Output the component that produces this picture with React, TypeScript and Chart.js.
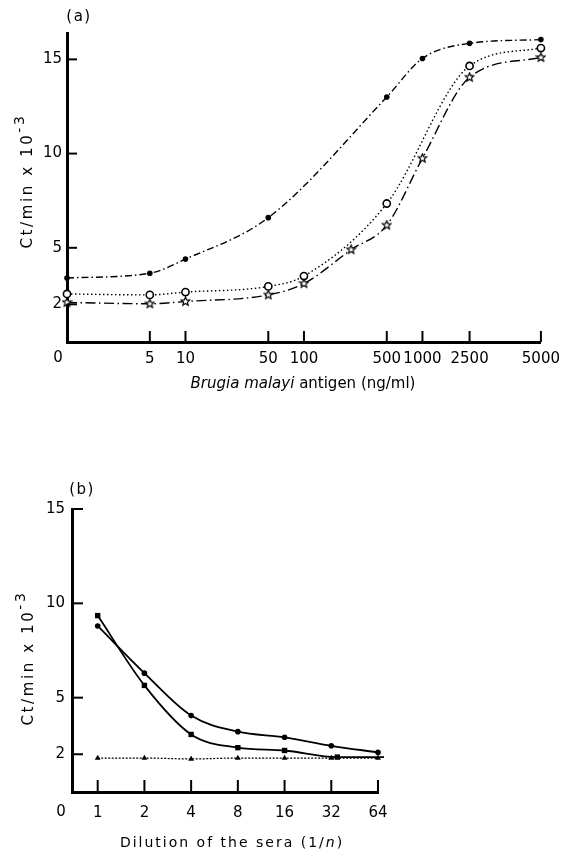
import React, { useEffect, useRef } from "react";
import { Chart, registerables } from "chart.js";

Chart.register(...registerables);

// ---- Panel (a): response to Brugia malayi antigen ----
const doseTicks = [0, 5, 10, 50, 100, 500, 1000, 2500, 5000];
const yTicksA = [2, 5, 10, 15];

const doseDots = [0, 5, 10, 50, 500, 1000, 2500, 5000];
const cpmDots = [3.4, 3.65, 4.4, 6.6, 13.0, 15.05, 15.85, 16.05];

const doseCircles = [0, 5, 10, 50, 100, 500, 2500, 5000];
const cpmCircles = [2.55, 2.5, 2.65, 2.95, 3.5, 7.35, 14.65, 15.6];

const doseStars = [0, 5, 10, 50, 100, 250, 500, 1000, 2500, 5000];
const cpmStars = [2.1, 2.03, 2.15, 2.5, 3.1, 4.9, 6.2, 9.75, 14.05, 15.1];

// ---- Panel (b): dilution of the sera ----
const dilutionTicks = [1, 2, 4, 8, 16, 32, 64];
const yTicksB = [2, 5, 10, 15];

const dilDots = [1, 2, 4, 8, 16, 32, 64];
const cpmDotsB = [8.8, 6.3, 4.05, 3.2, 2.9, 2.45, 2.1];

const dilSquares = [1, 2, 4, 8, 16, 35, 70];
const cpmSquares = [9.35, 5.65, 3.05, 2.35, 2.2, 1.85, 1.85];

const dilTriangles = [1, 2, 4, 8, 16, 32, 64];
const cpmTriangles = [1.8, 1.8, 1.75, 1.8, 1.8, 1.8, 1.8];

const FONT = "'DejaVu Sans', 'Liberation Sans', sans-serif";

// Dose axis: log10 of the dose with 0 at the origin; the step up to 5000 is drawn wider.
function doseAxis(v: number): number {
  if (v <= 0) return 0;
  const l = Math.log10(v);
  const knee = Math.log10(2500);
  return l <= knee ? l : knee + (l - knee) * 2;
}

function log2(v: number): number {
  return Math.log(v) / Math.LN2;
}

function makeStar(size: number): HTMLCanvasElement {
  const c = document.createElement("canvas");
  c.width = size;
  c.height = size;
  const ctx = c.getContext("2d")!;
  const cx = size / 2;
  const cy = size / 2;
  const R = size / 2 - 1;
  const r = R * 0.45;
  ctx.beginPath();
  for (let i = 0; i < 10; i++) {
    const a = -Math.PI / 2 + (i * Math.PI) / 5;
    const rad = i % 2 === 0 ? R : r;
    ctx.lineTo(cx + rad * Math.cos(a), cy + rad * Math.sin(a));
  }
  ctx.closePath();
  ctx.fillStyle = "#fff";
  ctx.fill();
  ctx.strokeStyle = "#000";
  ctx.lineWidth = 1.2;
  ctx.stroke();
  return c;
}

type Run = { text: string; font: string; rise?: number };

function drawRuns(
  ctx: CanvasRenderingContext2D,
  runs: Run[],
  cx: number,
  cy: number,
  spacing: number,
  rotate: boolean
) {
  ctx.save();
  (ctx as any).letterSpacing = `${spacing}px`;
  let total = 0;
  const widths = runs.map((r) => {
    ctx.font = r.font;
    const w = ctx.measureText(r.text).width;
    total += w;
    return w;
  });
  ctx.translate(cx, cy);
  if (rotate) ctx.rotate(-Math.PI / 2);
  ctx.fillStyle = "#000";
  ctx.textAlign = "left";
  ctx.textBaseline = "middle";
  let x = -total / 2;
  runs.forEach((r, i) => {
    ctx.font = r.font;
    ctx.fillText(r.text, x, -(r.rise || 0));
    x += widths[i];
  });
  ctx.restore();
}

type Decor = {
  letter: string;
  letterPos: [number, number];
  yTitleX: number;
  yTitleY: number;
  zeroX: number;
  zeroY: number;
  xTitle: Run[];
  xTitlePos: [number, number];
  xTitleSpacing: number;
  tickLen: number;
};

function decorPlugin(d: Decor) {
  return {
    id: "decor" + d.letter,
    afterDraw(chart: any) {
      const ctx: CanvasRenderingContext2D = chart.ctx;
      const xs = chart.scales.x;
      const ys = chart.scales.y;
      const axisY = ys.getPixelForValue(0);
      const axisX = xs.getPixelForValue(xs.min);
      ctx.save();
      ctx.strokeStyle = "#000";
      ctx.lineWidth = 2;
      // tick marks pointing into the plot
      xs.ticks.forEach((t: any) => {
        const px = xs.getPixelForValue(t.value);
        if (Math.abs(px - axisX) < 2) return;
        ctx.beginPath();
        ctx.moveTo(px, axisY);
        ctx.lineTo(px, axisY - d.tickLen);
        ctx.stroke();
      });
      ys.ticks.forEach((t: any) => {
        const py = ys.getPixelForValue(t.value);
        ctx.beginPath();
        ctx.moveTo(axisX, py);
        ctx.lineTo(axisX + d.tickLen - 1, py);
        ctx.stroke();
      });
      ctx.restore();

      ctx.save();
      ctx.fillStyle = "#000";
      ctx.textBaseline = "middle";
      ctx.textAlign = "center";
      ctx.font = `15px ${FONT}`;
      ctx.fillText("0", d.zeroX, d.zeroY);
      ctx.restore();

      drawRuns(ctx, [{ text: `(${d.letter})`, font: `15px ${FONT}` }], d.letterPos[0], d.letterPos[1], 1.5, false);

      drawRuns(
        ctx,
        [
          { text: "Ct/min x 10", font: `15px ${FONT}` },
          { text: "-3", font: `14px ${FONT}`, rise: 8 },
        ],
        d.yTitleX,
        d.yTitleY,
        2.6,
        true
      );

      drawRuns(ctx, d.xTitle, d.xTitlePos[0], d.xTitlePos[1], d.xTitleSpacing, false);
    },
  };
}

const axisBorder = { display: true, width: 3, color: "#000" };
const noGrid = { display: false, drawTicks: false };
const tickFont = { family: FONT, size: 15 };

function buildChartA(canvas: HTMLCanvasElement): Chart {
  const star = makeStar(11);
  const smooth = { cubicInterpolationMode: "monotone" as const, tension: 0.4, clip: false as const };
  return new Chart(canvas, {
    type: "line",
    data: {
      datasets: [
        {
          data: doseDots.map((d, i) => ({ x: doseAxis(d), y: cpmDots[i] })),
          borderColor: "#000",
          borderWidth: 1.4,
          borderDash: [7, 3, 1.5, 3],
          pointStyle: "circle",
          pointRadius: 2.8,
          pointBackgroundColor: "#000",
          pointBorderWidth: 0,
          ...smooth,
        },
        {
          data: doseCircles.map((d, i) => ({ x: doseAxis(d), y: cpmCircles[i] })),
          borderColor: "#000",
          borderWidth: 1.4,
          borderDash: [1.5, 2.5],
          pointStyle: "circle",
          pointRadius: 3.6,
          pointBackgroundColor: "#fff",
          pointBorderColor: "#000",
          pointBorderWidth: 1.6,
          ...smooth,
        },
        {
          data: doseStars.map((d, i) => ({ x: doseAxis(d), y: cpmStars[i] })),
          borderColor: "#000",
          borderWidth: 1.4,
          borderDash: [10, 3.5, 1.5, 3.5],
          pointStyle: star as any,
          pointRadius: 5,
          ...smooth,
        },
      ],
    },
    options: {
      animation: false,
      responsive: false,
      events: [],
      layout: { padding: { left: 0, right: 23, top: 33, bottom: 0 } },
      plugins: { legend: { display: false }, tooltip: { enabled: false } },
      scales: {
        x: {
          type: "linear",
          min: 0,
          max: doseAxis(5000),
          afterFit: (s: any) => {
            s.height = 58;
          },
          afterBuildTicks: (s: any) => {
            s.ticks = doseTicks.map((v) => ({ value: doseAxis(v) }));
          },
          ticks: {
            callback: (_v: any, i: number) => (i === 0 ? "" : String(doseTicks[i])),
            font: tickFont,
            color: "#000",
            padding: 8,
            autoSkip: false,
            maxRotation: 0,
          },
          grid: noGrid,
          border: axisBorder,
        },
        y: {
          min: 0,
          max: 16.4,
          afterFit: (s: any) => {
            s.width = 67;
          },
          afterBuildTicks: (s: any) => {
            s.ticks = yTicksA.map((v) => ({ value: v }));
          },
          ticks: { font: tickFont, color: "#000", padding: 5 },
          grid: noGrid,
          border: axisBorder,
        },
      },
    },
    plugins: [
      decorPlugin({
        letter: "a",
        letterPos: [79, 17],
        yTitleX: 28,
        yTitleY: 181,
        zeroX: 58,
        zeroY: 358,
        xTitle: [
          { text: "Brugia malayi", font: `italic 15px ${FONT}` },
          { text: " antigen (ng/ml)", font: `15px ${FONT}` },
        ],
        xTitlePos: [303, 384],
        xTitleSpacing: 0,
        tickLen: 11,
      }),
    ],
  } as any);
}

function buildChartB(canvas: HTMLCanvasElement): Chart {
  const smooth = { cubicInterpolationMode: "monotone" as const, tension: 0.4, clip: false as const };
  return new Chart(canvas, {
    type: "line",
    data: {
      datasets: [
        {
          data: dilDots.map((d, i) => ({ x: log2(d), y: cpmDotsB[i] })),
          borderColor: "#000",
          borderWidth: 1.8,
          pointStyle: "circle",
          pointRadius: 2.8,
          pointBackgroundColor: "#000",
          pointBorderWidth: 0,
          ...smooth,
        },
        {
          data: dilSquares.map((d, i) => ({ x: log2(d), y: cpmSquares[i] })),
          borderColor: "#000",
          borderWidth: 1.8,
          pointStyle: "rect",
          pointRadius: 3.8,
          pointBackgroundColor: "#000",
          pointBorderWidth: 0,
          ...smooth,
        },
        {
          data: dilTriangles.map((d, i) => ({ x: log2(d), y: cpmTriangles[i] })),
          borderColor: "#000",
          borderWidth: 1.2,
          borderDash: [2, 1.5],
          pointStyle: "triangle",
          pointRadius: 3.4,
          pointBackgroundColor: "#000",
          pointBorderWidth: 0,
          ...smooth,
        },
      ],
    },
    options: {
      animation: false,
      responsive: false,
      events: [],
      layout: { padding: { left: 0, right: 190, top: 79, bottom: 0 } },
      plugins: { legend: { display: false }, tooltip: { enabled: false } },
      scales: {
        x: {
          type: "linear",
          min: -0.55,
          max: 6,
          afterFit: (s: any) => {
            s.height = 61;
          },
          afterBuildTicks: (s: any) => {
            s.ticks = dilutionTicks.map((v) => ({ value: log2(v) }));
          },
          ticks: {
            callback: (_v: any, i: number) => String(dilutionTicks[i]),
            font: tickFont,
            color: "#000",
            padding: 12,
            autoSkip: false,
            maxRotation: 0,
          },
          grid: noGrid,
          border: axisBorder,
        },
        y: {
          min: 0,
          max: 15,
          afterFit: (s: any) => {
            s.width = 72;
          },
          afterBuildTicks: (s: any) => {
            s.ticks = yTicksB.map((v) => ({ value: v }));
          },
          ticks: { font: tickFont, color: "#000", padding: 7 },
          grid: noGrid,
          border: axisBorder,
        },
      },
    },
    plugins: [
      decorPlugin({
        letter: "b",
        letterPos: [82, 60],
        yTitleX: 29,
        yTitleY: 228,
        zeroX: 61,
        zeroY: 382,
        xTitle: [
          { text: "Dilution of the sera (1/", font: `14px ${FONT}` },
          { text: "n", font: `italic 14px ${FONT}` },
          { text: ")", font: `14px ${FONT}` },
        ],
        xTitlePos: [232, 413],
        xTitleSpacing: 2,
        tickLen: 12,
      }),
    ],
  } as any);
}

export default function App() {
  const refA = useRef<HTMLCanvasElement>(null);
  const refB = useRef<HTMLCanvasElement>(null);

  useEffect(() => {
    if (!refA.current || !refB.current) return;
    const a = buildChartA(refA.current);
    const b = buildChartB(refB.current);
    return () => {
      a.destroy();
      b.destroy();
    };
  }, []);

  return (
    <div
      style={{
        position: "fixed",
        left: 0,
        top: 0,
        width: 568,
        height: 853,
        background: "#fff",
        overflow: "hidden",
      }}
    >
      <canvas
        ref={refA}
        width={568}
        height={400}
        style={{ position: "absolute", left: 0, top: 0, width: 568, height: 400 }}
      />
      <canvas
        ref={refB}
        width={568}
        height={423}
        style={{ position: "absolute", left: 0, top: 430, width: 568, height: 423 }}
      />
    </div>
  );
}
